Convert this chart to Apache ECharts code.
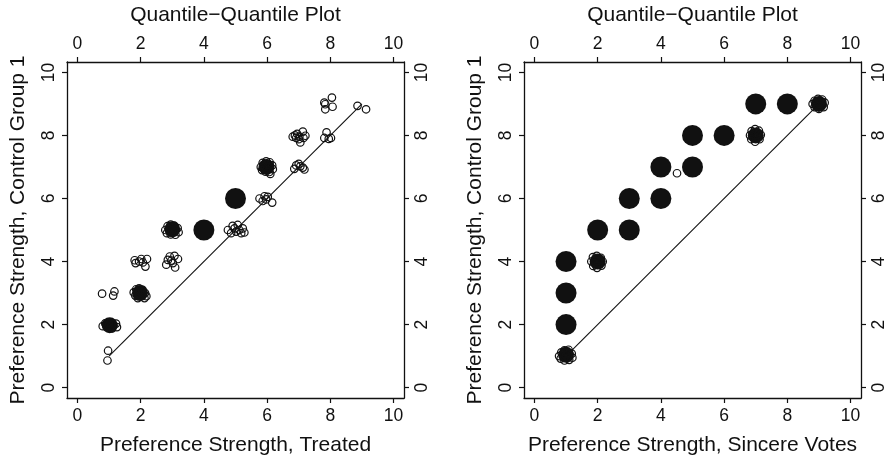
<!DOCTYPE html>
<html>
<head>
<meta charset="utf-8">
<script src="https://cdn.jsdelivr.net/npm/echarts@6/dist/echarts.min.js"></script>
<style>
html,body{margin:0;padding:0;background:#fff;}
#chart{width:889px;height:461px;}
</style>
</head>
<body>
<div id="chart"></div>
<script>
// ---- data ----
const tickValues = [0, 2, 4, 6, 8, 10];
const plotTitle = "Quantile\u2212Quantile Plot";
const yTitle = "Preference Strength, Control Group 1";
const xTitleLeft = "Preference Strength, Treated";
const xTitleRight = "Preference Strength, Sincere Votes";
const refLine = [[1, 1], [9, 9]];

// Left panel: Treated vs Control Group 1
const leftDense = [[4, 5], [5, 6]];
const leftCore = [[1.02, 1.98], [1.98, 3.0], [3.0, 5.02], [5.98, 7.0]];
const leftOpen = [
  [0.97, 1.17], [0.95, 0.86],
  [0.8, 1.95], [0.88, 2.04], [0.97, 1.9], [1.05, 2.06], [1.14, 1.97], [1.22, 2.03], [1.25, 1.92], [0.92, 1.99], [1.1, 1.88], [1.0, 2.0],
  [0.78, 2.98], [1.13, 2.92], [1.17, 3.05],
  [1.78, 3.02], [1.86, 3.12], [1.95, 3.15], [2.06, 3.1], [2.14, 3.0], [2.18, 2.9], [1.91, 2.84], [2.12, 2.84], [1.83, 2.92], [2.0, 2.95], [1.97, 3.05],
  [1.81, 4.04], [2.02, 4.08], [2.2, 4.08], [2.15, 3.84], [1.84, 3.95], [1.95, 4.0], [2.07, 3.97],
  [2.81, 3.9], [3.09, 3.81], [2.92, 4.16], [3.07, 4.18], [3.18, 4.08], [2.97, 4.03], [2.86, 4.05], [3.02, 3.95],
  [2.78, 5.0], [2.85, 5.12], [2.95, 5.17], [3.06, 5.14], [3.17, 5.06], [3.2, 4.93], [3.1, 4.85], [2.95, 4.86], [2.83, 4.9], [3.0, 5.0], [3.05, 4.95],
  [4.76, 5.0], [4.91, 5.13], [5.07, 5.16], [5.23, 5.05], [5.18, 4.9], [4.86, 4.9], [5.02, 4.95], [5.28, 4.92], [4.97, 5.05], [5.12, 5.0],
  [5.76, 6.0], [5.92, 6.07], [6.02, 6.05], [6.16, 5.87], [5.86, 5.92], [5.97, 5.97],
  [5.8, 7.0], [5.86, 7.13], [5.97, 7.18], [6.08, 7.15], [6.16, 7.05], [6.18, 6.93], [6.07, 6.84], [5.95, 6.85], [5.84, 6.9], [6.0, 7.0], [6.1, 6.78],
  [6.86, 6.94], [7.0, 7.1], [7.13, 6.98], [7.18, 6.92], [6.92, 7.05], [7.05, 7.02],
  [6.81, 7.96], [6.95, 8.05], [7.13, 8.12], [7.21, 7.99], [7.05, 7.78], [6.92, 7.92], [7.02, 7.96], [7.15, 7.92], [6.88, 8.0], [7.0, 7.88],
  [7.81, 7.92], [7.88, 8.1], [8.02, 7.92], [7.95, 7.89],
  [7.81, 9.04], [7.84, 8.83], [8.05, 9.2], [8.07, 8.91], [7.84, 8.99],
  [8.86, 8.94], [9.13, 8.83]
];

// Right panel: Sincere Votes vs Control Group 1
const rightDense = [[1, 2], [1, 3], [1, 4], [2, 5], [3, 5], [3, 6], [4, 6], [4, 7], [5, 7], [5, 8], [6, 8], [7, 9], [8, 9]];
const rightCore = [[1.0, 1.04], [2.0, 4.0], [7.0, 8.0], [9.0, 9.0]];
const rightOpen = [
  [0.78, 1.0], [0.85, 1.12], [0.95, 1.18], [1.08, 1.2], [1.18, 1.08], [1.2, 0.95], [1.1, 0.88], [0.95, 0.86], [0.83, 0.92], [1.0, 1.02],
  [1.8, 4.0], [1.85, 4.14], [1.97, 4.18], [2.1, 4.12], [2.16, 4.0], [2.12, 3.87], [1.98, 3.8], [1.86, 3.86], [2.0, 4.02], [1.9, 3.95],
  [4.51, 6.8],
  [6.82, 8.0], [6.87, 8.14], [6.98, 8.2], [7.1, 8.15], [7.16, 8.02], [7.12, 7.88], [6.98, 7.8], [6.86, 7.88], [7.0, 8.0],
  [8.8, 9.0], [8.86, 9.1], [8.97, 9.16], [9.1, 9.14], [9.18, 9.04], [9.15, 8.9], [9.0, 8.84], [8.86, 8.9], [9.02, 9.0]
];

// ---- chart ----
const FONT = "'Liberation Sans', Arial, Helvetica, sans-serif";
const INK = '#111111';
const AX_MIN = -0.33, AX_MAX = 10.33;

function makeAxis(gridIndex, position, isY, name, nameGap) {
  return {
    type: 'value', gridIndex, position, min: AX_MIN, max: AX_MAX,
    splitLine: { show: false },
    axisLine: { show: true, onZero: false, lineStyle: { color: INK, width: 1.3 } },
    axisTick: { show: true, inside: false, length: 5, customValues: tickValues, lineStyle: { color: INK, width: 1.2 } },
    axisLabel: {
      show: true, customValues: tickValues, rotate: isY ? 90 : 0, margin: 9,
      fontSize: 17.5, color: INK, fontFamily: FONT
    },
    name: name || '', nameLocation: 'middle', nameGap: nameGap || 0,
    nameTextStyle: { fontSize: 21, color: INK, fontFamily: FONT }
  };
}

const openStyle = { color: 'rgba(255,255,255,0)', borderColor: INK, borderWidth: 1.2, opacity: 1 };
function panelSeries(xi, yi, dense, core, open) {
  return [
    { type: 'line', xAxisIndex: xi, yAxisIndex: yi, data: refLine, showSymbol: false, symbol: 'none',
      lineStyle: { color: INK, width: 1.1 }, silent: true, z: 1 },
    { type: 'scatter', xAxisIndex: xi, yAxisIndex: yi, data: dense, symbol: 'circle', symbolSize: 21,
      itemStyle: { color: INK, opacity: 1 }, z: 2 },
    { type: 'scatter', xAxisIndex: xi, yAxisIndex: yi, data: core, symbol: 'circle', symbolSize: 16,
      itemStyle: { color: INK, opacity: 1 }, z: 2 },
    { type: 'scatter', xAxisIndex: xi, yAxisIndex: yi, data: open, symbol: 'circle', symbolSize: 7.5,
      itemStyle: openStyle, z: 3 }
  ];
}

const chart = echarts.init(document.getElementById('chart'), null, { renderer: 'canvas' });
chart.setOption({
  animation: false,
  backgroundColor: '#ffffff',
  grid: [
    { left: 67, top: 62, width: 337, height: 337 },
    { left: 524, top: 62, width: 337, height: 337 }
  ],
  xAxis: [
    makeAxis(0, 'bottom', false, xTitleLeft, 37),
    makeAxis(0, 'top', false, plotTitle, 36),
    makeAxis(1, 'bottom', false, xTitleRight, 37),
    makeAxis(1, 'top', false, plotTitle, 36)
  ],
  yAxis: [
    makeAxis(0, 'left', true, yTitle, 38),
    makeAxis(0, 'right', true, '', 0),
    makeAxis(1, 'left', true, yTitle, 38),
    makeAxis(1, 'right', true, '', 0)
  ],
  series: [].concat(
    panelSeries(0, 0, leftDense, leftCore, leftOpen),
    panelSeries(2, 2, rightDense, rightCore, rightOpen)
  )
});
</script>
</body>
</html>
